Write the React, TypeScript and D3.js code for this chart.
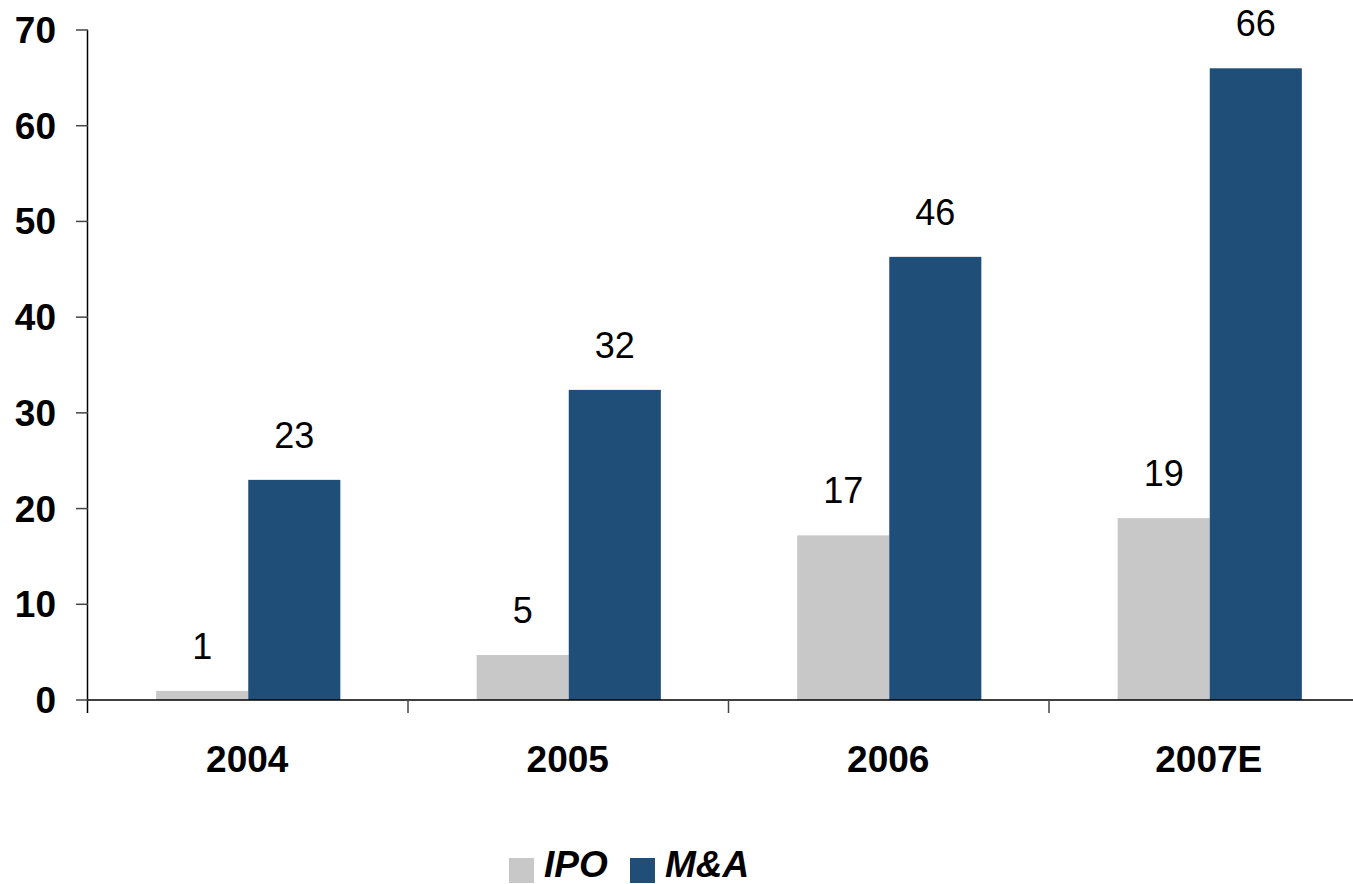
import { useEffect, useRef } from "react";
import * as d3 from "d3";

const years = ["2004", "2005", "2006", "2007E"];
const seriesNames = ["IPO", "M&A"];
const ipoValues = [0.95, 4.7, 17.2, 19.0];
const maValues = [23.0, 32.4, 46.3, 66.0];
const ipoLabels = ["1", "5", "17", "19"];
const maLabels = ["23", "32", "46", "66"];
const yTicks = [0, 10, 20, 30, 40, 50, 60, 70];

const colors: Record<string, string> = { IPO: "#c8c8c8", "M&A": "#1f4e79" };

const width = 1353;
const height = 884;
const font = "'Liberation Sans', Arial, sans-serif";

const App = () => {
  const svgRef = useRef<SVGSVGElement | null>(null);

  useEffect(() => {
    const svg = d3.select(svgRef.current);
    svg.selectAll("*").remove();

    const left = 88;
    const catWidth = 320.5;
    const x0 = d3
      .scaleBand()
      .domain(years)
      .range([left, left + catWidth * years.length])
      .padding(0);
    const x1 = d3
      .scaleBand()
      .domain(seriesNames)
      .range([0, x0.bandwidth()])
      .paddingInner(0)
      .paddingOuter(0.74);
    const y = d3.scaleLinear().domain([0, 70]).range([700, 30]);

    const rows = years.map((yr, i) => ({
      year: yr,
      values: [
        { key: "IPO", value: ipoValues[i], label: ipoLabels[i] },
        { key: "M&A", value: maValues[i], label: maLabels[i] },
      ],
    }));

    // bars
    const groups = svg
      .append("g")
      .selectAll("g")
      .data(rows)
      .enter()
      .append("g")
      .attr("transform", (d) => `translate(${x0(d.year)},0)`);

    groups
      .selectAll("rect")
      .data((d) => d.values)
      .enter()
      .append("rect")
      .attr("x", (d) => x1(d.key)!)
      .attr("y", (d) => y(d.value))
      .attr("width", x1.bandwidth())
      .attr("height", (d) => y(0) - y(d.value))
      .attr("fill", (d) => colors[d.key]);

    groups
      .selectAll("text")
      .data((d) => d.values)
      .enter()
      .append("text")
      .attr("x", (d) => x1(d.key)! + x1.bandwidth() / 2)
      .attr("y", (d) => y(d.value) - 32)
      .attr("text-anchor", "middle")
      .attr("font-family", font)
      .attr("font-size", 36)
      .attr("fill", "#000")
      .text((d) => d.label);

    // y axis
    const yAxis = svg.append("g");
    yAxis
      .append("line")
      .attr("x1", left - 0.5)
      .attr("x2", left - 0.5)
      .attr("y1", y(70))
      .attr("y2", y(0) + 13)
      .attr("stroke", "#000")
      .attr("stroke-width", 1.5);
    yAxis
      .selectAll("line.tick")
      .data(yTicks)
      .enter()
      .append("line")
      .attr("class", "tick")
      .attr("x1", left - 12)
      .attr("x2", left)
      .attr("y1", (d) => y(d))
      .attr("y2", (d) => y(d))
      .attr("stroke", "#444")
      .attr("stroke-width", 1.5);
    yAxis
      .selectAll("text")
      .data(yTicks)
      .enter()
      .append("text")
      .attr("x", 56)
      .attr("y", (d) => y(d))
      .attr("dy", "0.35em")
      .attr("text-anchor", "end")
      .attr("font-family", font)
      .attr("font-weight", "bold")
      .attr("font-size", 37)
      .text((d) => d);

    // x axis
    const xAxis = svg.append("g");
    xAxis
      .append("line")
      .attr("x1", left)
      .attr("x2", width)
      .attr("y1", y(0))
      .attr("y2", y(0))
      .attr("stroke", "#000")
      .attr("stroke-width", 1.5);
    xAxis
      .selectAll("line.tick")
      .data(years.slice(1))
      .enter()
      .append("line")
      .attr("class", "tick")
      .attr("x1", (d) => x0(d)! - 0.5)
      .attr("x2", (d) => x0(d)! - 0.5)
      .attr("y1", y(0))
      .attr("y2", y(0) + 13)
      .attr("stroke", "#444")
      .attr("stroke-width", 1.5);
    xAxis
      .selectAll("text")
      .data(years)
      .enter()
      .append("text")
      .attr("x", (d) => x0(d)! + x0.bandwidth() / 2 - 1)
      .attr("y", 772)
      .attr("text-anchor", "middle")
      .attr("font-family", font)
      .attr("font-weight", "bold")
      .attr("font-size", 37)
      .text((d) => d);

    // legend
    const legend = svg.append("g");
    const legendX = [509, 630];
    seriesNames.forEach((name, i) => {
      legend
        .append("rect")
        .attr("x", legendX[i])
        .attr("y", 858)
        .attr("width", 25)
        .attr("height", 25)
        .attr("fill", colors[name]);
      legend
        .append("text")
        .attr("x", legendX[i] + 35)
        .attr("y", 877)
        .attr("font-family", font)
        .attr("font-weight", "bold")
        .attr("font-style", "italic")
        .attr("font-size", 37)
        .text(name);
    });
  }, []);

  return (
    <svg
      ref={svgRef}
      width={width}
      height={height}
      style={{ position: "absolute", left: 0, top: 0, background: "#fff" }}
    ></svg>
  );
};

export default App;
